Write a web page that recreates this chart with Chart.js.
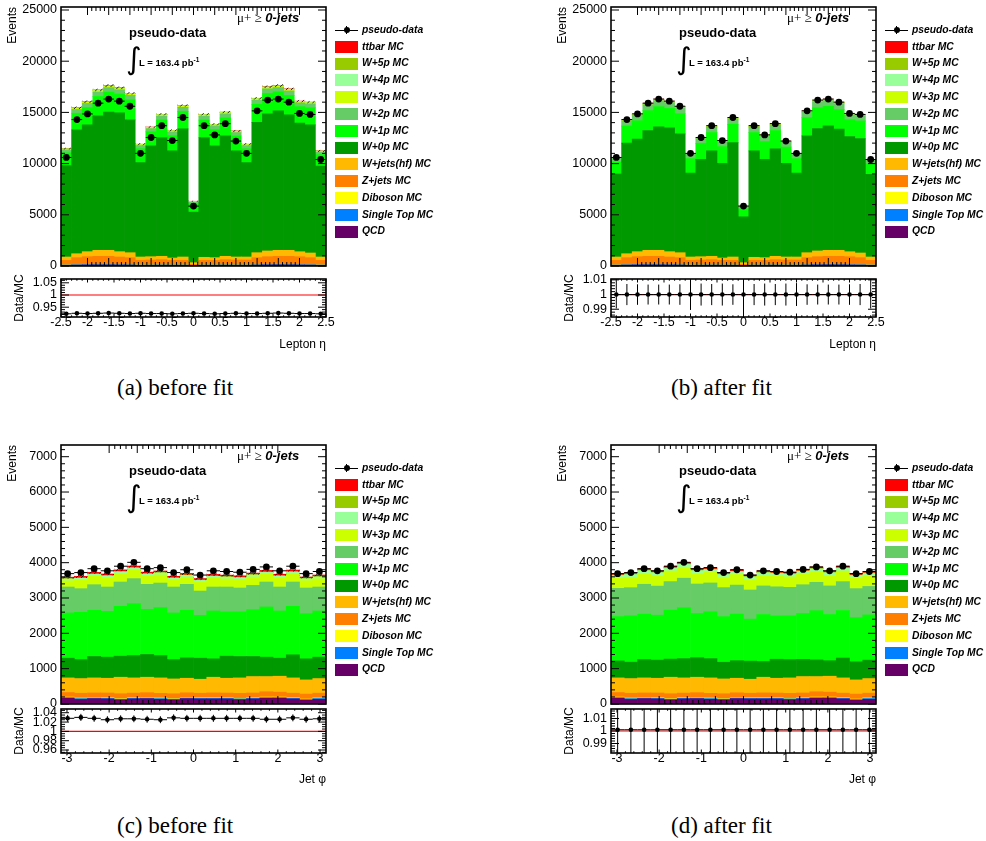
<!DOCTYPE html>
<html>
<head>
<meta charset="utf-8">
<script src="https://cdn.jsdelivr.net/npm/chart.js@4.4.1/dist/chart.umd.min.js"></script>
<style>
  body { margin: 0; background: #fff; }
  #page { position: relative; width: 986px; height: 841px; overflow: hidden; font-family: "Liberation Sans", Arial, sans-serif; color: #000; }
  #page canvas { position: absolute; }
  .t { position: absolute; white-space: nowrap; line-height: 1; }
  .lg { font-weight: bold; font-style: italic; font-size: 10.3px; }
  .box { position: absolute; width: 23px; height: 12px; }
  .cap { font-family: "Liberation Serif", serif; font-size: 23px; }
</style>
</head>
<body>
<div id="page"></div>
<script>
// bins and tick labels
const etaCenters = [-2.4, -2.2, -2.0, -1.8, -1.6, -1.4, -1.2, -1.0, -0.8, -0.6, -0.4, -0.2, 0.0, 0.2, 0.4, 0.6, 0.8, 1.0, 1.2, 1.4, 1.6, 1.8, 2.0, 2.2, 2.4];
const phiCenters = [-2.985, -2.670, -2.356, -2.042, -1.728, -1.414, -1.100, -0.785, -0.471, -0.157, 0.157, 0.471, 0.785, 1.100, 1.414, 1.728, 2.042, 2.356, 2.670, 2.985];
const etaTicks = [-2.5, -2, -1.5, -1, -0.5, 0, 0.5, 1, 1.5, 2, 2.5];
const phiTicks = [-3, -2, -1, 0, 1, 2, 3];
const etaEventTicks = [0, 5000, 10000, 15000, 20000, 25000];
const phiEventTicks = [0, 1000, 2000, 3000, 4000, 5000, 6000, 7000];
const ratioTicksEtaPre = [0.95, 1, 1.05];
const ratioTicksPhiPre = [0.96, 0.98, 1, 1.02, 1.04];
const ratioTicksPost = [0.99, 1, 1.01];

// samples, bottom of the stack first
const sampleNames = ['QCD', 'Single Top MC', 'Diboson MC', 'Z+jets MC', 'W+jets(hf) MC', 'W+0p MC', 'W+1p MC', 'W+2p MC', 'W+3p MC', 'W+4p MC', 'W+5p MC', 'ttbar MC'];
const sampleColors = ['#660066', '#0080ff', '#ffff00', '#ff8000', '#ffb900', '#009900', '#00ff00', '#66cc66', '#ccff00', '#99ff99', '#99cc00', '#ff0000'];

// lepton eta
const etaData = [10600, 14300, 14850, 15900, 16300, 16100, 15600, 11000, 12550, 13700, 12250, 14500, 5850, 13700, 12800, 13900, 12200, 11000, 15150, 16200, 16300, 16000, 14900, 14800, 10400];
const etaQCD = [70, 90, 100, 100, 100, 95, 90, 70, 75, 80, 75, 75, 20, 75, 75, 80, 75, 75, 90, 100, 105, 100, 95, 90, 70];
const etaSingleTop = [25, 35, 40, 45, 45, 40, 35, 25, 28, 30, 28, 28, 8, 28, 28, 30, 28, 28, 35, 40, 45, 45, 40, 35, 25];
const etaDiboson = [12, 16, 18, 20, 20, 18, 16, 12, 13, 14, 13, 13, 4, 13, 13, 14, 13, 13, 16, 18, 20, 20, 18, 16, 12];
const etaZjets = [443, 674, 752, 780, 780, 727, 674, 443, 469, 496, 434, 434, 128, 434, 434, 496, 469, 469, 674, 752, 775, 780, 752, 674, 443];
const etaWhf = [330, 385, 490, 585, 585, 520, 485, 330, 325, 325, 230, 330, 165, 300, 265, 325, 295, 295, 485, 560, 585, 585, 490, 455, 330];
const etaTtbar = [15, 22, 24, 27, 28, 27, 26, 18, 20, 23, 21, 24, 10, 24, 21, 23, 20, 18, 26, 28, 27, 27, 24, 23, 15];
const etaW4p = [25, 35, 35, 40, 40, 38, 40, 28, 30, 35, 32, 35, 16, 35, 32, 36, 30, 28, 37, 40, 38, 40, 34, 34, 23];
const etaW5p = [8, 10, 10, 12, 12, 11, 12, 8, 9, 10, 9, 10, 5, 10, 9, 10, 9, 8, 11, 12, 11, 12, 10, 10, 7];
const etaW0pPre = [8920, 12100, 12390, 13140, 13500, 13570, 12980, 9220, 10820, 11605, 10460, 12520, 4935, 11700, 10915, 11765, 10360, 9220, 12720, 13400, 13630, 13240, 12550, 12520, 8890];
const etaW1pPre = [1252, 1618, 1695, 1890, 1947, 1824, 1942, 1353, 1379, 1698, 1506, 1707, 803, 1697, 1586, 1743, 1465, 1348, 1769, 1989, 1846, 1898, 1615, 1663, 1108];
const etaW2pPre = [280, 370, 390, 430, 440, 415, 440, 300, 310, 385, 340, 390, 180, 385, 360, 395, 330, 305, 400, 450, 420, 430, 370, 375, 250];
const etaW3pPre = [80, 105, 110, 120, 125, 120, 125, 85, 90, 110, 95, 110, 50, 110, 100, 110, 95, 85, 115, 125, 120, 120, 105, 105, 70];
const etaW0pPost = [8107, 10794, 10986, 11705, 12065, 12097, 11609, 8205, 9515, 10297, 9253, 11179, 4479, 10392, 9610, 10493, 9153, 8205, 11413, 11961, 12163, 11836, 11247, 11181, 8074];
const etaW1pPost = [1170, 1677, 1798, 1940, 1968, 1894, 1959, 1398, 1553, 1794, 1619, 1780, 760, 1793, 1741, 1796, 1583, 1398, 1769, 2018, 1897, 1916, 1637, 1713, 1048];
const etaW2pPost = [355, 507, 542, 586, 595, 573, 592, 421, 468, 541, 488, 537, 230, 541, 522, 542, 477, 421, 536, 609, 574, 579, 496, 517, 318];
const etaW3pPost = [40, 55, 55, 60, 62, 60, 62, 42, 45, 55, 48, 55, 25, 55, 50, 55, 48, 42, 58, 62, 60, 60, 52, 52, 35];
const etaMcErr = [110, 130, 135, 140, 140, 140, 135, 115, 120, 125, 120, 130, 80, 125, 120, 125, 120, 115, 135, 140, 140, 140, 135, 130, 110];
const etaRatioPre = [0.923, 0.925, 0.924, 0.925, 0.926, 0.925, 0.924, 0.925, 0.924, 0.924, 0.923, 0.924, 0.925, 0.924, 0.923, 0.924, 0.925, 0.924, 0.924, 0.925, 0.926, 0.925, 0.924, 0.924, 0.923];
const etaRatioErrPre = [0.002, 0.0015, 0.0015, 0.0015, 0.0015, 0.0015, 0.0015, 0.002, 0.0015, 0.0015, 0.0015, 0.0015, 0.003, 0.0015, 0.0015, 0.0015, 0.0015, 0.002, 0.0015, 0.0015, 0.0015, 0.0015, 0.0015, 0.0015, 0.002];
const etaRatioPost = [1, 1, 1, 1, 1, 1, 1, 1, 1, 1, 1, 1, 1, 1, 1, 1, 1, 1, 1, 1, 1, 1, 1, 1, 1];
const etaRatioErrPost = [0.0095, 0.0072, 0.007, 0.0068, 0.0068, 0.0068, 0.007, 0.0105, 0.0075, 0.0072, 0.0075, 0.007, 0.03, 0.0072, 0.0075, 0.0072, 0.0075, 0.0078, 0.007, 0.0068, 0.0068, 0.0068, 0.007, 0.0072, 0.0095];

// jet phi
const phiData = [3690, 3720, 3830, 3770, 3900, 4010, 3830, 3860, 3720, 3800, 3650, 3770, 3750, 3730, 3810, 3880, 3770, 3900, 3690, 3750];
const phiQCD = [160, 130, 150, 142, 115, 142, 150, 133, 115, 150, 142, 142, 142, 123, 142, 160, 160, 142, 105, 133];
const phiSingleTop = [22, 24, 21, 23, 22, 24, 21, 22, 23, 22, 21, 23, 22, 24, 21, 22, 23, 22, 21, 24];
const phiDiboson = [14, 15, 14, 15, 14, 15, 14, 15, 14, 15, 14, 15, 14, 15, 14, 15, 14, 15, 14, 15];
const phiZjets = [130, 135, 128, 132, 140, 128, 135, 132, 138, 130, 128, 135, 132, 140, 135, 150, 138, 128, 140, 135];
const phiWhf = [413, 416, 426, 417, 467, 430, 438, 437, 420, 412, 396, 443, 419, 437, 465, 430, 451, 432, 402, 413];
const phiTtbar = [38, 40, 41, 40, 42, 43, 41, 41, 40, 41, 39, 40, 40, 40, 41, 42, 40, 42, 39, 40];
const phiW5p = [14, 15, 15, 15, 15, 16, 15, 15, 15, 15, 14, 15, 15, 15, 15, 15, 15, 16, 14, 15];
const phiW0pPre = [558, 539, 606, 597, 596, 634, 644, 634, 549, 578, 596, 520, 625, 606, 568, 549, 511, 653, 596, 606];
const phiW1pPre = [1279, 1336, 1307, 1297, 1411, 1468, 1278, 1354, 1317, 1345, 1212, 1355, 1250, 1259, 1325, 1420, 1336, 1373, 1279, 1307];
const phiW2pPre = [735, 669, 725, 688, 688, 707, 707, 697, 735, 735, 688, 678, 707, 679, 688, 707, 678, 688, 726, 678];
const phiW3pPre = [177, 238, 238, 256, 233, 242, 236, 232, 199, 204, 246, 246, 229, 236, 237, 220, 251, 226, 210, 232];
const phiW4pPre = [50, 55, 55, 58, 54, 56, 54, 54, 50, 50, 55, 56, 53, 54, 55, 52, 57, 53, 50, 53];
const phiW0pPost = [480, 464, 521, 513, 513, 545, 554, 545, 472, 497, 513, 447, 538, 521, 488, 472, 439, 562, 513, 521];
const phiW1pPost = [1255, 1310, 1281, 1271, 1383, 1439, 1252, 1327, 1291, 1318, 1188, 1328, 1225, 1234, 1299, 1392, 1309, 1346, 1253, 1281];
const phiW2pPost = [799, 798, 848, 824, 811, 838, 832, 815, 821, 822, 825, 809, 825, 809, 812, 804, 808, 817, 818, 806];
const phiW3pPost = [290, 295, 305, 300, 300, 310, 300, 300, 295, 300, 295, 295, 300, 295, 300, 300, 295, 300, 295, 290];
const phiW4pPost = [75, 78, 80, 78, 78, 80, 78, 78, 76, 78, 75, 78, 78, 77, 78, 78, 78, 78, 76, 77];
const phiMcErr = [45, 45, 46, 45, 46, 47, 45, 46, 45, 45, 45, 45, 45, 45, 46, 46, 45, 46, 45, 45];
const phiRatioPre = [1.028, 1.030, 1.028, 1.025, 1.027, 1.027, 1.026, 1.025, 1.029, 1.028, 1.028, 1.028, 1.028, 1.028, 1.028, 1.026, 1.026, 1.029, 1.026, 1.027];
const phiRatioErrPre = [0.0075, 0.0076, 0.0074, 0.0075, 0.0074, 0.0073, 0.0074, 0.0074, 0.0075, 0.0074, 0.0076, 0.0075, 0.0075, 0.0075, 0.0074, 0.0074, 0.0075, 0.0074, 0.0076, 0.0075];
const phiRatioPost = [1.001, 1.001, 1.001, 1.001, 1.001, 1.001, 1.001, 1.001, 1.001, 1.001, 1.001, 1.001, 1.001, 1.001, 1.001, 1.001, 1.001, 1.001, 1.001, 1.001];
const phiRatioErrPost = [0.025, 0.025, 0.025, 0.025, 0.025, 0.025, 0.025, 0.025, 0.025, 0.025, 0.025, 0.025, 0.025, 0.025, 0.025, 0.025, 0.025, 0.025, 0.025, 0.025];

const page = document.getElementById('page');

const addCanvas = (left, top, w, h) => {
  const c = document.createElement('canvas');
  c.width = w;
  c.height = h;
  c.style.left = left + 'px';
  c.style.top = top + 'px';
  page.appendChild(c);
  return c;
};

const addText = (html, left, top, style) => {
  const d = document.createElement('div');
  d.className = 't';
  d.innerHTML = html;
  d.style.cssText += `left:${left}px;top:${top}px;${style || ''}`;
  page.appendChild(d);
  return d;
};

const tickMarks = (min, max, minor, major) => {
  const out = [];
  const n0 = Math.ceil(min / minor - 1e-6), n1 = Math.floor(max / minor + 1e-6);
  for (let n = n0; n <= n1; n++) {
    const v = n * minor;
    out.push({v, big: Math.abs(v / major - Math.round(v / major)) < 1e-6});
  }
  return out;
};

// ROOT style frame with ticks inside, mirrored on all sides
const framePlugin = (spec) => ({
  id: 'rootFrame',
  afterDraw(chart) {
    const {ctx, chartArea: a} = chart;
    const xs = chart.scales.xt, ys = chart.scales.y;
    ctx.save();
    ctx.strokeStyle = '#000';
    ctx.lineWidth = 1;
    ctx.beginPath();
    tickMarks(ys.min, ys.max, spec.yMinor, spec.yMajor).forEach(m => {
      const p = ys.getPixelForValue(m.v);
      const len = m.big ? spec.yLen : spec.yLen / 2;
      ctx.moveTo(a.left, p); ctx.lineTo(a.left + len, p);
      ctx.moveTo(a.right - len, p); ctx.lineTo(a.right, p);
    });
    tickMarks(xs.min, xs.max, spec.xMinor, spec.xMajor).forEach(m => {
      const p = xs.getPixelForValue(m.v);
      const len = m.big ? spec.xLen : spec.xLen / 2;
      ctx.moveTo(p, a.bottom); ctx.lineTo(p, a.bottom - len);
      ctx.moveTo(p, a.top); ctx.lineTo(p, a.top + len);
    });
    ctx.stroke();
    ctx.lineWidth = 1.6;
    ctx.strokeRect(a.left, a.top, a.right - a.left, a.bottom - a.top);
    ctx.restore();
  }
});

// data error bars (and hatched MC error) drawn just under the data points
const errorPlugin = (values, errors, stack, mcErr, redLine) => ({
  id: 'errorBars',
  beforeDatasetDraw(chart, args) {
    if (args.meta.type !== 'line') return;
    const {ctx, chartArea: a, scales: {x, y}} = chart;
    const w = (a.right - a.left) / values.length;
    ctx.save();
    ctx.beginPath();
    ctx.rect(a.left, a.top, a.right - a.left, a.bottom - a.top);
    ctx.clip();
    if (mcErr) {
      ctx.strokeStyle = '#000';
      ctx.lineWidth = 0.8;
      values.forEach((_, i) => {
        const total = stack.reduce((s, arr) => s + arr[i], 0);
        const x0 = x.getPixelForValue(i) - w / 2;
        const yt = y.getPixelForValue(total + mcErr[i]);
        const yb = y.getPixelForValue(total - mcErr[i]);
        const h = yb - yt;
        ctx.save();
        ctx.beginPath();
        ctx.rect(x0, yt, w, h);
        ctx.clip();
        ctx.beginPath();
        for (let s = x0 - h; s < x0 + w; s += 5) {
          ctx.moveTo(s, yb);
          ctx.lineTo(s + h, yt);
        }
        ctx.stroke();
        ctx.restore();
      });
    }
    if (redLine) {
      const p = y.getPixelForValue(1);
      ctx.strokeStyle = '#ff0000';
      ctx.lineWidth = redLine;
      ctx.beginPath();
      ctx.moveTo(a.left, p);
      ctx.lineTo(a.right, p);
      ctx.stroke();
    }
    ctx.strokeStyle = '#000';
    ctx.lineWidth = 1;
    ctx.beginPath();
    values.forEach((v, i) => {
      const xc = x.getPixelForValue(i);
      const yc = y.getPixelForValue(v);
      const e = errors ? errors[i] : Math.sqrt(v);
      ctx.moveTo(xc - w / 2, yc); ctx.lineTo(xc + w / 2, yc);
      ctx.moveTo(xc, y.getPixelForValue(v + e)); ctx.lineTo(xc, y.getPixelForValue(v - e));
    });
    ctx.stroke();
    ctx.restore();
  }
});

const tickFont = {family: '"Liberation Sans", Arial, sans-serif', size: 12.5};
const titleFont = {family: '"Liberation Sans", Arial, sans-serif', size: 12};
const fmt = v => String(v);

function makePanel(p) {
  const labels = p.centers.map(String);

  // main stacked histogram
  const mainCanvas = addCanvas(p.x, p.mainTop - 12, 345, (p.mainBottom - p.mainTop) + 24);
  new Chart(mainCanvas, {
    type: 'bar',
    data: {
      labels,
      datasets: [
        ...p.stack.map((vals, k) => ({
          type: 'bar', label: sampleNames[k], data: vals, backgroundColor: sampleColors[k],
          borderWidth: 0, categoryPercentage: 1, barPercentage: 1, order: 1
        })),
        {type: 'line', label: 'pseudo-data', data: p.data, showLine: false, stack: 'data',
          pointRadius: 3.4, pointBackgroundColor: '#000', pointBorderWidth: 0, order: 0}
      ]
    },
    options: {
      responsive: false, animation: false, events: [],
      layout: {padding: {top: 12, right: 19, bottom: 12, left: 0}},
      plugins: {legend: {display: false}, tooltip: {enabled: false}},
      scales: {
        x: {type: 'category', display: false, stacked: true, offset: true},
        xt: {type: 'linear', display: false, min: p.xMin, max: p.xMax},
        y: {
          stacked: true, min: 0, max: p.yMax,
          grid: {display: false, drawTicks: false}, border: {display: false},
          afterBuildTicks: s => { s.ticks = p.yTicks.map(v => ({value: v})); },
          ticks: {padding: 4, color: '#000', font: tickFont, autoSkip: false, callback: fmt},
          title: {display: true, text: 'Events', align: 'end', color: '#000', font: titleFont, padding: {top: 5, bottom: 0}},
          afterFit: s => { s.width = 61; }
        }
      }
    },
    plugins: [
      errorPlugin(p.data, null, p.stack, p.mcErr, 0),
      framePlugin({xMinor: p.xMinor, xMajor: p.xMajor, yMinor: p.yMinor, yMajor: p.yMajor, xLen: 8, yLen: 8})
    ]
  });

  // data / MC ratio
  const rh = p.rBottom - p.rTop;
  const ratioCanvas = addCanvas(p.x, p.rTop - 12, 345, 12 + rh + p.xh + 2);
  new Chart(ratioCanvas, {
    type: 'line',
    data: {
      labels,
      datasets: [{data: p.ratio, showLine: false, pointRadius: 2.3, pointBackgroundColor: '#000', pointBorderWidth: 0}]
    },
    options: {
      responsive: false, animation: false, events: [],
      layout: {padding: {top: 12, right: 19, bottom: 2, left: 0}},
      plugins: {legend: {display: false}, tooltip: {enabled: false}},
      scales: {
        x: {type: 'category', display: false, offset: true},
        xt: {
          type: 'linear', position: 'bottom', min: p.xMin, max: p.xMax,
          grid: {display: false, drawTicks: false}, border: {display: false},
          afterBuildTicks: s => { s.ticks = p.xTicks.map(v => ({value: v})); },
          ticks: {padding: -2, color: '#000', font: tickFont, autoSkip: false, maxRotation: 0, minRotation: 0, callback: fmt},
          title: {display: true, text: p.xTitle, align: 'end', color: '#000', font: titleFont, padding: {top: 0, bottom: 1}},
          afterFit: s => { s.height = p.xh; }
        },
        y: {
          min: p.rMin, max: p.rMax,
          grid: {display: false, drawTicks: false}, border: {display: false},
          afterBuildTicks: s => { s.ticks = p.rTicks.map(v => ({value: v})); },
          ticks: {padding: 4, color: '#000', font: tickFont, autoSkip: false, callback: fmt},
          title: {display: true, text: 'Data/MC', align: 'center', color: '#000', font: titleFont, padding: {top: 12, bottom: 0}},
          afterFit: s => { s.width = 61; }
        }
      }
    },
    plugins: [
      errorPlugin(p.ratio, p.ratioErr, null, null, 1.2),
      framePlugin({xMinor: p.xMinor, xMajor: p.xMajor, yMinor: p.rMinor, yMajor: p.rMajor, xLen: 3.5, yLen: 8})
    ]
  });

  // annotations inside the frame
  const ox = p.x, oy = p.mainTop - 7;
  addText('pseudo-data', ox + 129, oy + 25.5, 'font-weight:bold;font-size:13px');
  addText('&int;', ox + 126, oy + 43.5, 'font-family:"DejaVu Sans";font-size:30px');
  addText('L = 163.4 pb<sup style="font-size:6.5px;vertical-align:4px">-1</sup>', ox + 139, oy + 56.7, 'font-weight:bold;font-size:9.5px');
  addText('<span style="font-family:\'Liberation Serif\',serif">&mu;+ &ge;</span> <b><i>0-jets</i></b>', ox + 237, oy + 10.5, 'font-size:13px');

  // legend
  const rowY = k => oy + 30 + 16.8 * k;
  const lx = ox + 335;
  const y0 = rowY(0);
  const mk = document.createElement('div');
  mk.style.cssText = `position:absolute;left:${lx}px;top:${y0 - 0.5}px;width:23px;height:1px;background:#000`;
  page.appendChild(mk);
  const vk = document.createElement('div');
  vk.style.cssText = `position:absolute;left:${lx + 11}px;top:${y0 - 4}px;width:1px;height:8px;background:#000`;
  page.appendChild(vk);
  const dot = document.createElement('div');
  dot.style.cssText = `position:absolute;left:${lx + 8.5}px;top:${y0 - 3}px;width:6px;height:6px;border-radius:50%;background:#000`;
  page.appendChild(dot);
  addText('pseudo-data', lx + 27, y0 - 5.2, '').classList.add('lg');
  for (let k = 0; k < sampleNames.length; k++) {
    const idx = sampleNames.length - 1 - k;
    const yy = rowY(k + 1);
    const b = document.createElement('div');
    b.className = 'box';
    b.style.cssText += `left:${lx}px;top:${yy - 6}px;background:${sampleColors[idx]}`;
    page.appendChild(b);
    addText(sampleNames[idx], lx + 27, yy - 5.2, '').classList.add('lg');
  }

  addText(p.caption, p.capX, p.capY - 11.5, '').classList.add('cap');
}

makePanel({
  x: 0, mainTop: 7, mainBottom: 266, rTop: 279, rBottom: 317, xh: 36,
  centers: etaCenters, xTicks: etaTicks, xMin: -2.5, xMax: 2.5, xMajor: 0.5, xMinor: 0.1, xTitle: 'Lepton \u03b7',
  yMax: 25293, yTicks: etaEventTicks, yMajor: 5000, yMinor: 1000,
  stack: [etaQCD, etaSingleTop, etaDiboson, etaZjets, etaWhf, etaW0pPre, etaW1pPre, etaW2pPre, etaW3pPre, etaW4p, etaW5p, etaTtbar],
  data: etaData, mcErr: etaMcErr,
  ratio: etaRatioPre, ratioErr: etaRatioErrPre, rMin: 0.9098, rMax: 1.0656, rTicks: ratioTicksEtaPre, rMajor: 0.05, rMinor: 0.01,
  caption: '(a) before fit', capX: 117, capY: 387
});
makePanel({
  x: 550, mainTop: 7, mainBottom: 266, rTop: 279, rBottom: 317, xh: 36,
  centers: etaCenters, xTicks: etaTicks, xMin: -2.5, xMax: 2.5, xMajor: 0.5, xMinor: 0.1, xTitle: 'Lepton \u03b7',
  yMax: 25293, yTicks: etaEventTicks, yMajor: 5000, yMinor: 1000,
  stack: [etaQCD, etaSingleTop, etaDiboson, etaZjets, etaWhf, etaW0pPost, etaW1pPost, etaW2pPost, etaW3pPost, etaW4p, etaW5p, etaTtbar],
  data: etaData, mcErr: null,
  ratio: etaRatioPost, ratioErr: etaRatioErrPost, rMin: 0.9847, rMax: 1.0106, rTicks: ratioTicksPost, rMajor: 0.01, rMinor: 0.002,
  caption: '(b) after fit', capX: 671, capY: 387
});
makePanel({
  x: 0, mainTop: 445, mainBottom: 704, rTop: 709, rBottom: 753, xh: 35,
  centers: phiCenters, xTicks: phiTicks, xMin: -Math.PI, xMax: Math.PI, xMajor: 1, xMinor: 0.2, xTitle: 'Jet \u03c6',
  yMax: 7331, yTicks: phiEventTicks, yMajor: 1000, yMinor: 200,
  stack: [phiQCD, phiSingleTop, phiDiboson, phiZjets, phiWhf, phiW0pPre, phiW1pPre, phiW2pPre, phiW3pPre, phiW4pPre, phiW5p, phiTtbar],
  data: phiData, mcErr: phiMcErr,
  ratio: phiRatioPre, ratioErr: phiRatioErrPre, rMin: 0.9536, rMax: 1.048, rTicks: ratioTicksPhiPre, rMajor: 0.02, rMinor: 0.005,
  caption: '(c) before fit', capX: 117, capY: 825
});
makePanel({
  x: 550, mainTop: 445, mainBottom: 704, rTop: 709, rBottom: 753, xh: 35,
  centers: phiCenters, xTicks: phiTicks, xMin: -Math.PI, xMax: Math.PI, xMajor: 1, xMinor: 0.2, xTitle: 'Jet \u03c6',
  yMax: 7331, yTicks: phiEventTicks, yMajor: 1000, yMinor: 200,
  stack: [phiQCD, phiSingleTop, phiDiboson, phiZjets, phiWhf, phiW0pPost, phiW1pPost, phiW2pPost, phiW3pPost, phiW4pPost, phiW5p, phiTtbar],
  data: phiData, mcErr: null,
  ratio: phiRatioPost, ratioErr: phiRatioErrPost, rMin: 0.9824, rMax: 1.0176, rTicks: ratioTicksPost, rMajor: 0.01, rMinor: 0.002,
  caption: '(d) after fit', capX: 671, capY: 825
});
</script>
</body>
</html>
